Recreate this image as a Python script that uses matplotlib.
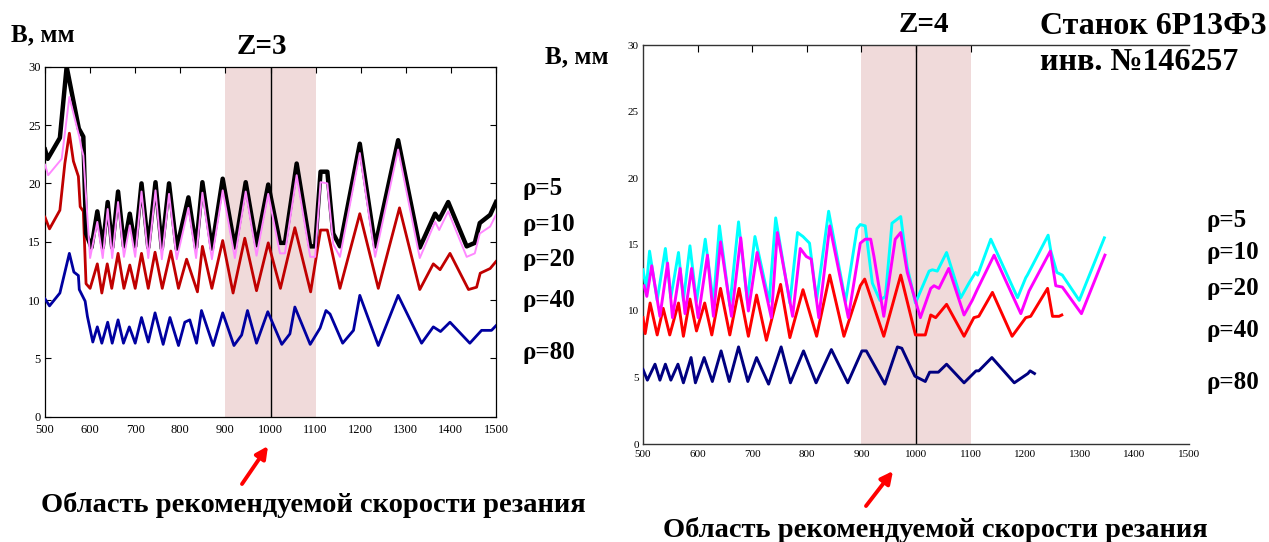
import matplotlib
matplotlib.use("Agg")
import matplotlib.pyplot as plt

W, H = 1269, 542
SERIF = ["Liberation Serif", "DejaVu Serif"]
plt.rcParams["font.family"] = SERIF

# ---- Z=3 panel (left) ----
z3_rho5_x = [500, 506, 533, 548, 575, 585, 591, 603, 616, 628, 639, 649, 662, 675, 688, 700, 714, 729, 745, 759,
             775, 792, 818, 835, 849, 870, 894, 921, 945, 969, 995, 1021, 1032, 1058, 1088, 1099, 1111, 1126, 1139,
             1154, 1198, 1232, 1283, 1331, 1365, 1374, 1394, 1435, 1453, 1464, 1487, 1500]
z3_rho5_y = [22.9, 22.1, 23.9, 30.0, 24.7, 24.0, 15.7, 14.5, 17.6, 14.5, 18.4, 14.5, 19.3, 14.6, 17.4, 14.6, 20.0,
             14.5, 20.1, 14.4, 20.0, 14.4, 18.8, 14.5, 20.1, 14.4, 20.4, 14.5, 20.1, 14.7, 19.9, 14.9, 14.9, 21.7,
             14.6, 14.6, 21.0, 21.0, 15.7, 14.6, 23.4, 14.6, 23.7, 14.5, 17.4, 16.9, 18.4, 14.6, 14.9, 16.6, 17.3, 18.4]

z3_rho10_x = [500, 507, 537, 554, 576, 581, 585, 600, 616, 628, 639, 649, 662, 675, 688, 700, 714, 729, 745, 759,
              775, 792, 818, 835, 849, 870, 894, 921, 945, 969, 995, 1021, 1032, 1058, 1088, 1099, 1111, 1126, 1139,
              1154, 1198, 1232, 1283, 1331, 1365, 1374, 1394, 1435, 1453, 1464, 1487, 1500]
z3_rho10_y = [21.6, 20.7, 22.1, 27.4, 24.0, 23.0, 22.4, 13.6, 16.7, 13.6, 17.8, 13.6, 18.4, 13.7, 16.4, 13.7, 19.3,
              13.6, 19.4, 13.5, 19.1, 13.5, 17.9, 13.6, 19.2, 13.5, 19.4, 13.6, 19.3, 13.8, 19.1, 14.0, 14.0, 20.7,
              13.7, 13.7, 20.1, 20.0, 14.8, 13.7, 22.6, 13.7, 22.9, 13.6, 16.7, 16.0, 17.6, 13.7, 14.0, 15.7, 16.3, 17.3]

z3_rho20_x = [500, 510, 533, 544, 554, 563, 574, 578, 585, 591, 600, 616, 626, 638, 648, 662, 675, 688, 700, 714,
              729, 744, 760, 779, 796, 814, 838, 849, 870, 894, 917, 943, 969, 995, 1022, 1054, 1089, 1111, 1126,
              1154, 1198, 1239, 1286, 1331, 1361, 1376, 1398, 1439, 1457, 1465, 1487, 1500]
z3_rho20_y = [17.1, 16.1, 17.7, 21.7, 24.3, 21.9, 20.6, 18.0, 17.6, 11.4, 11.0, 13.1, 10.6, 13.1, 11.0, 14.0, 11.0,
              13.0, 11.0, 14.0, 11.0, 14.1, 11.0, 14.2, 11.0, 13.5, 10.7, 14.6, 11.0, 15.1, 10.6, 15.3, 10.8, 14.9,
              11.0, 16.2, 10.7, 16.0, 16.0, 11.0, 17.4, 11.0, 17.9, 10.9, 13.1, 12.6, 14.0, 10.9, 11.1, 12.3, 12.7, 13.3]

z3_rho40_x = [500, 510, 533, 554, 564, 574, 576, 589, 594, 606, 616, 626, 639, 649, 662, 674, 687, 700, 714, 729,
              744, 762, 777, 796, 810, 821, 836, 847, 873, 894, 919, 936, 949, 969, 994, 1025, 1043, 1054, 1088,
              1110, 1123, 1132, 1160, 1184, 1198, 1239, 1283, 1335, 1361, 1377, 1398, 1442, 1468, 1490, 1500]
z3_rho40_y = [10.1, 9.5, 10.6, 14.0, 12.4, 12.1, 10.9, 9.9, 8.6, 6.4, 7.7, 6.3, 8.1, 6.3, 8.3, 6.3, 7.7, 6.3, 8.5,
              6.4, 8.9, 6.2, 8.5, 6.1, 8.1, 8.3, 6.3, 9.1, 6.1, 8.9, 6.1, 7.0, 9.1, 6.3, 9.0, 6.2, 7.1, 9.4, 6.2,
              7.6, 9.1, 8.8, 6.3, 7.4, 10.4, 6.1, 10.4, 6.3, 7.7, 7.3, 8.1, 6.3, 7.4, 7.4, 7.8]

# ---- Z=4 panel (right) ----
z4_rho5_x = [500, 506, 512, 526, 541, 551, 565, 574, 586, 598, 614, 629, 640, 659, 675, 691, 705, 731, 743, 769,
             783, 793, 805, 818, 840, 871, 892, 898, 907, 920, 934, 944, 956, 972, 984, 999, 1024, 1030, 1039, 1056,
             1082, 1097, 1109, 1113, 1137, 1186, 1201, 1204, 1242, 1247, 1258, 1268, 1299, 1345]
z4_rho5_y = [13.1, 11.7, 14.5, 10.8, 14.7, 11.0, 14.4, 10.8, 14.9, 10.7, 15.4, 10.6, 16.4, 10.4, 16.7, 10.8, 15.6,
             10.7, 17.0, 10.6, 15.9, 15.6, 15.1, 10.8, 17.5, 10.7, 16.2, 16.5, 16.4, 12.1, 10.8, 11.1, 16.6, 17.1,
             13.3, 10.6, 13.0, 13.1, 13.0, 14.4, 11.0, 12.1, 12.9, 12.7, 15.4, 11.0, 12.5, 12.7, 15.7, 14.5, 12.9,
             12.7, 10.8, 15.5]

z4_rho10_x = [502, 507, 516, 531, 545, 554, 568, 577, 589, 601, 618, 629, 642, 662, 679, 693, 709, 735, 746, 774,
              788, 799, 808, 822, 842, 876, 898, 907, 917, 923, 941, 962, 972, 984, 1008, 1027, 1033, 1042, 1060,
              1088, 1103, 1112, 1143, 1192, 1207, 1246, 1256, 1268, 1303, 1346]
z4_rho10_y = [11.9, 11.1, 13.4, 9.6, 13.6, 9.5, 13.2, 9.8, 13.2, 9.5, 14.2, 9.6, 15.2, 9.6, 15.5, 10.0, 14.4, 9.5,
              15.9, 9.6, 14.7, 14.1, 13.9, 9.5, 16.4, 9.5, 15.1, 15.4, 15.4, 14.1, 9.6, 15.4, 15.9, 12.9, 9.5, 11.7,
              11.9, 11.7, 13.2, 9.7, 10.8, 11.6, 14.2, 9.8, 11.5, 14.5, 11.9, 11.8, 9.8, 14.2]

z4_rho20_x = [500, 504, 513, 526, 537, 549, 565, 574, 586, 598, 613, 626, 642, 659, 676, 693, 708, 726, 752, 769,
              793, 818, 842, 868, 898, 906, 941, 972, 999, 1017, 1027, 1036, 1056, 1088, 1106, 1115, 1140, 1176,
              1201, 1210, 1241, 1250, 1262, 1267]
z4_rho20_y = [9.5, 8.3, 10.6, 8.2, 10.2, 8.2, 10.6, 8.1, 10.9, 8.5, 10.6, 8.2, 11.7, 8.2, 11.7, 8.1, 11.2, 7.8,
              12.0, 8.0, 11.6, 8.1, 12.7, 8.1, 11.9, 12.4, 8.1, 12.7, 8.2, 8.2, 9.7, 9.5, 10.5, 8.1, 9.5, 9.6, 11.4,
              8.1, 9.5, 9.6, 11.7, 9.6, 9.6, 9.7]

z4_rho40_x = [500, 508, 522, 531, 541, 551, 564, 574, 588, 596, 612, 627, 643, 658, 675, 692, 708, 730, 753, 770,
              794, 817, 845, 875, 901, 909, 943, 966, 974, 998, 1017, 1025, 1041, 1056, 1088, 1110, 1115, 1139, 1180,
              1205, 1209, 1217]
z4_rho40_y = [5.6, 4.8, 6.0, 4.8, 6.0, 4.8, 6.0, 4.6, 6.5, 4.6, 6.5, 4.7, 7.0, 4.7, 7.3, 4.7, 6.5, 4.5, 7.3, 4.6,
              7.0, 4.6, 7.1, 4.6, 7.0, 7.0, 4.5, 7.3, 7.2, 5.1, 4.7, 5.4, 5.4, 6.0, 4.6, 5.5, 5.5, 6.5, 4.6, 5.3,
              5.5, 5.3]

rho_labels = ["ρ=5", "ρ=10", "ρ=20", "ρ=40", "ρ=80"]
x_ticks = [500, 600, 700, 800, 900, 1000, 1100, 1200, 1300, 1400, 1500]
y_ticks = [0, 5, 10, 15, 20, 25, 30]
zone = (900, 1100)
caption = "Область рекомендуемой скорости резания"


def fx(px):
    return px / W


def fy(py):
    return 1 - py / H


def _frame(ax, fs):
    ax.set_xlim(500, 1500)
    ax.set_ylim(0, 30)
    ax.set_xticks(x_ticks)
    ax.set_yticks(y_ticks)
    ax.tick_params(direction="in", labelsize=fs, length=4, width=0.8)
    for lab in ax.get_xticklabels() + ax.get_yticklabels():
        lab.set_family(SERIF)
    ax.axvspan(*zone, color="#F0DADA", lw=0, zorder=0)
    ax.axvline(1000, color="black", lw=1.0, zorder=1)


fig = plt.figure(figsize=(W / 100, H / 100), dpi=100, facecolor="white")

# left panel
ax = fig.add_axes([fx(45), fy(416.7), fx(496 - 45), (416.7 - 66.7) / H])
_frame(ax, 9)
ax.tick_params(top=True, right=True, bottom=False, pad=5)
ax.tick_params(axis="y", pad=3)
ax.plot(z3_rho40_x, z3_rho40_y, color="#0000A0", lw=2.0, zorder=3, solid_joinstyle="round")
ax.plot(z3_rho20_x, z3_rho20_y, color="#C00000", lw=2.0, zorder=3, solid_joinstyle="round")
ax.plot(z3_rho5_x, z3_rho5_y, color="black", lw=3.2, zorder=3, solid_joinstyle="round")
ax.plot(z3_rho10_x, z3_rho10_y, color="#FF88FF", lw=1.4, zorder=4, solid_joinstyle="round")
for s in ax.spines.values():
    s.set_linewidth(0.9)

# right panel
ax2 = fig.add_axes([fx(643), fy(444), fx(1189 - 643), (444 - 45) / H])
_frame(ax2, 8)
ax2.tick_params(axis="x", length=0, pad=4)
ax2.tick_params(axis="y", length=0, pad=3)
ax2.spines["right"].set_visible(False)
for s in ["left", "bottom", "top"]:
    ax2.spines[s].set_color("#333333")
    ax2.spines[s].set_linewidth(1.0)
top = ax2.secondary_xaxis("top")
top.set_xticks(x_ticks[1:7])
top.set_xticklabels([])
top.tick_params(direction="in", length=5)
top.spines["top"].set_visible(False)
ax2.plot(z4_rho40_x, z4_rho40_y, color="#000080", lw=2.1, zorder=3, solid_joinstyle="round")
ax2.plot(z4_rho20_x, z4_rho20_y, color="#FF0000", lw=2.1, zorder=3, solid_joinstyle="round")
ax2.plot(z4_rho5_x, z4_rho5_y, color="#00FFFF", lw=2.1, zorder=3, solid_joinstyle="round")
ax2.plot(z4_rho10_x, z4_rho10_y, color="#FF00FF", lw=2.1, zorder=4, solid_joinstyle="round")

# texts
bold = dict(family=SERIF, fontweight="bold", color="black")
fig.text(fx(11), fy(35), "В, мм", fontsize=18, ha="left", va="center", **bold)
fig.text(fx(545), fy(57), "В, мм", fontsize=18, ha="left", va="center", **bold)
fig.text(fx(262), fy(46), "Z=3", fontsize=21, ha="center", va="center", **bold)
fig.text(fx(924), fy(25), "Z=4", fontsize=21, ha="center", va="center", **bold)
fig.text(fx(1040), fy(26), "Станок 6Р13Ф3", fontsize=23, ha="left", va="center", **bold)
fig.text(fx(1040), fy(62), "инв. №146257", fontsize=23, ha="left", va="center", **bold)

for lab, py in zip(rho_labels, [188, 225, 260, 300, 353]):
    fig.text(fx(523), fy(py), lab, fontsize=18, ha="left", va="center", **bold)
for lab, py in zip(rho_labels, [220, 253, 288, 330, 383]):
    fig.text(fx(1207), fy(py), lab, fontsize=18, ha="left", va="center", **bold)

fig.text(fx(313), fy(505), caption, fontsize=20.5, ha="center", va="center", **bold)
fig.text(fx(935), fy(530), caption, fontsize=20.5, ha="center", va="center", **bold)

arrow = dict(arrowstyle="-|>", color="red", lw=2.8, mutation_scale=18, shrinkA=0, shrinkB=0)
fig.add_artist(matplotlib.patches.FancyArrowPatch((fx(242), fy(484)), (fx(268), fy(446)),
                                                   transform=fig.transFigure, **arrow))
fig.add_artist(matplotlib.patches.FancyArrowPatch((fx(866), fy(506)), (fx(893), fy(471)),
                                                   transform=fig.transFigure, **arrow))

fig.savefig("out.png", dpi=100, facecolor="white")
